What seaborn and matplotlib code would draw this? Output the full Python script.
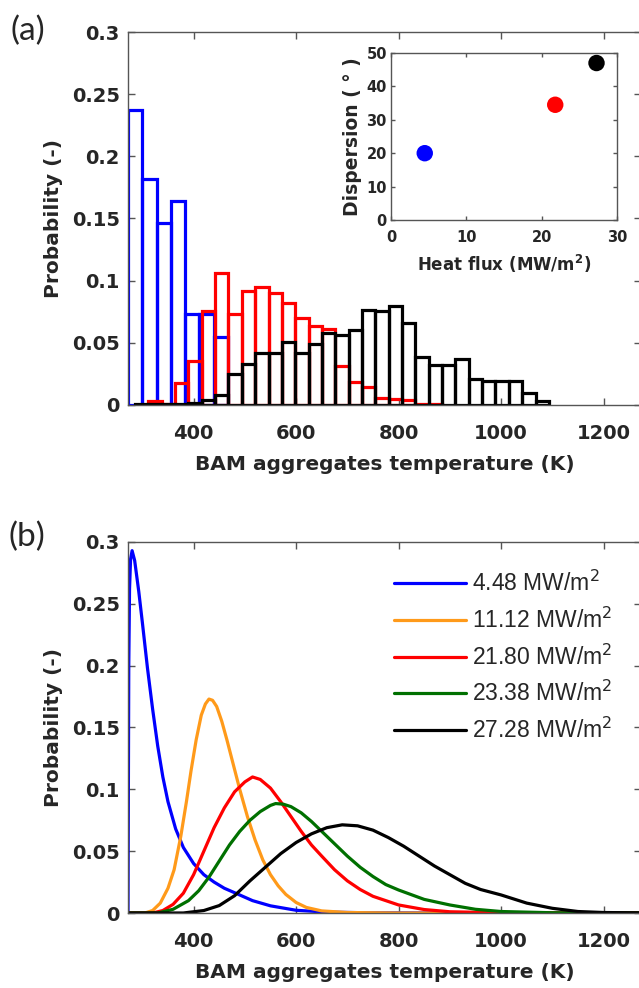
import numpy as np
import pandas as pd
import seaborn as sns
import matplotlib
matplotlib.use("Agg")
import matplotlib.pyplot as plt

sns.set_style("ticks")
plt.rcParams['font.family'] = ['DejaVu Sans']
plt.rcParams['mathtext.fontset'] = 'dejavusans'

# ---------------- data: panel (a) histograms ----------------
blue_edges = [272.0, 299.9, 327.8, 355.7, 383.6, 411.5, 439.4, 467.3]
blue_heights = [0.237, 0.182, 0.146, 0.164, 0.073, 0.073, 0.055]

common_edges = [285.7, 311.7, 337.8, 363.8, 389.9, 415.9, 442.0, 468.0, 494.1,
                520.1, 546.2, 572.2, 598.3, 624.3, 650.4, 676.4, 702.5, 728.5,
                754.6, 780.6, 806.7, 832.7, 858.8, 884.8, 910.9, 936.9, 963.0,
                989.0, 1015.1, 1041.1, 1067.2, 1093.2]
red_edges = common_edges[1:24]
red_heights = [0.003, 0.001, 0.018, 0.035, 0.0756, 0.1065, 0.073, 0.0917, 0.0946,
               0.0904, 0.0818, 0.0697, 0.0636, 0.0609, 0.031, 0.0188, 0.0147,
               0.0054, 0.0046, 0.0044, 0.001, 0.001]
black_edges = common_edges[0:32]
black_heights = [0.001, 0.001, 0.001, 0.001, 0.002, 0.004, 0.008, 0.025, 0.033,
                 0.042, 0.042, 0.051, 0.042, 0.049, 0.0577, 0.056, 0.060, 0.0764,
                 0.0758, 0.0797, 0.066, 0.0389, 0.032, 0.032, 0.037, 0.021, 0.0197,
                 0.0197, 0.0197, 0.0097, 0.003]

# inset
heat_flux = [4.48, 21.80, 27.28]
dispersion = [20.0, 34.5, 47.0]
inset_colors = ['#0000FF', '#FF0000', '#000000']

# ---------------- data: panel (b) curves ----------------
series_labels = ['4.48 MW/m$^2$', '11.12 MW/m$^2$', '21.80 MW/m$^2$',
                 '23.38 MW/m$^2$', '27.28 MW/m$^2$']
series_colors = ['#0000FF', '#FF9A1A', '#FF0000', '#007000', '#000000']

blue_T = [272, 273.5, 275, 277, 280, 285, 293, 300, 310, 320, 330, 340, 350, 365,
          380, 400, 420, 440, 460, 485, 515, 550, 600, 660, 740, 900, 1273]
blue_P = [0.0, 0.20, 0.262, 0.286, 0.293, 0.285, 0.260, 0.235, 0.198, 0.165, 0.135,
          0.110, 0.090, 0.068, 0.053, 0.040, 0.031, 0.025, 0.020, 0.0155, 0.010,
          0.0058, 0.0022, 0.0007, 0.0002, 0.0, 0.0]

orange_T = [272, 305, 320, 335, 350, 362, 375, 386, 395, 405, 415, 423, 430, 437,
            445, 455, 465, 475, 490, 505, 520, 535, 550, 565, 580, 600, 620, 650,
            700, 800, 1273]
orange_P = [0.0, 0.0, 0.002, 0.008, 0.020, 0.035, 0.062, 0.090, 0.115, 0.140,
            0.160, 0.169, 0.173, 0.172, 0.167, 0.155, 0.140, 0.124, 0.100, 0.078,
            0.059, 0.043, 0.031, 0.022, 0.015, 0.0085, 0.0045, 0.0017, 0.0004,
            0.0, 0.0]

red_T = [272, 320, 340, 360, 380, 400, 420, 440, 460, 480, 500, 515, 530, 550,
         570, 590, 610, 630, 650, 675, 700, 725, 750, 800, 850, 900, 1000, 1273]
red_P = [0.0, 0.0, 0.002, 0.007, 0.016, 0.031, 0.050, 0.069, 0.085, 0.098, 0.106,
         0.110, 0.108, 0.101, 0.090, 0.078, 0.066, 0.055, 0.046, 0.035, 0.026,
         0.019, 0.0135, 0.0065, 0.0028, 0.001, 0.0002, 0.0]

green_T = [272, 330, 360, 390, 410, 430, 450, 470, 490, 510, 530, 550, 560, 575,
           590, 610, 630, 650, 675, 700, 725, 750, 775, 800, 850, 900, 950, 1000,
           1100, 1273]
green_P = [0.0, 0.0, 0.003, 0.010, 0.018, 0.029, 0.042, 0.055, 0.066, 0.075,
           0.082, 0.087, 0.0885, 0.088, 0.086, 0.081, 0.074, 0.066, 0.056, 0.046,
           0.037, 0.0295, 0.023, 0.0186, 0.011, 0.0065, 0.003, 0.0012, 0.0002, 0.0]

black_T = [272, 380, 420, 450, 480, 510, 540, 570, 600, 630, 660, 690, 720, 750,
           780, 810, 840, 870, 900, 930, 960, 1000, 1050, 1100, 1150, 1200, 1273]
black_P = [0.0, 0.0, 0.002, 0.006, 0.014, 0.026, 0.037, 0.048, 0.057, 0.064,
           0.069, 0.0713, 0.0705, 0.067, 0.061, 0.054, 0.046, 0.038, 0.031, 0.024,
           0.019, 0.0146, 0.008, 0.0038, 0.0012, 0.0004, 0.0001]

xticks = [400, 600, 800, 1000, 1200]
yticks = [0, 0.05, 0.1, 0.15, 0.2, 0.25, 0.3]
ytick_labels = ['0', '0.05', '0.1', '0.15', '0.2', '0.25', '0.3']
inset_xticks = [0, 10, 20, 30]
inset_yticks = [0, 10, 20, 30, 40, 50]

XLIM = (272, 1273)
spine_c = '#555555'
text_c = '#262626'

W, H = 639, 988
fig = plt.figure(figsize=(W / 100, H / 100), dpi=100)


def px_axes(left, top, right, bottom):
    return fig.add_axes([left / W, 1 - bottom / H, (right - left) / W, (bottom - top) / H])


def style_main(ax):
    ax.set_xlim(*XLIM)
    ax.set_ylim(0, 0.3)
    ax.set_xticks(xticks)
    ax.set_xticklabels([str(t) for t in xticks])
    ax.set_yticks(yticks)
    ax.set_yticklabels(ytick_labels)
    ax.tick_params(direction='in', top=True, right=True, length=5, width=1,
                   color=spine_c, labelsize=14)
    ax.tick_params(axis='x', pad=13.5)
    ax.tick_params(axis='y', pad=6)
    for lab in ax.get_xticklabels() + ax.get_yticklabels():
        lab.set_fontweight('bold')
        lab.set_color(text_c)
    for sp in ax.spines.values():
        sp.set_visible(True)
        sp.set_color(spine_c)
        sp.set_linewidth(1.0)
    ax.set_xlabel('BAM aggregates temperature (K)', fontsize=14.5, fontweight='bold',
                  color=text_c, labelpad=9)
    ax.set_ylabel('Probability (-)', fontsize=14.5, fontweight='bold',
                  color=text_c, labelpad=6)


# ---------------- panel (a) ----------------
axa = px_axes(128, 32, 641, 405)
for edges, heights, col in [(blue_edges, blue_heights, '#0000FF'),
                            (red_edges, red_heights, '#FF0000'),
                            (black_edges, black_heights, '#000000')]:
    centers = [(edges[i] + edges[i + 1]) / 2 for i in range(len(heights))]
    df = pd.DataFrame({'T': centers, 'w': heights})
    sns.histplot(data=df, x='T', weights='w', bins=edges, fill=False,
                 element='bars', color=col, linewidth=2.3, ax=axa, stat='count')
style_main(axa)

# inset
axi = px_axes(391, 53, 617, 220)
dfi = pd.DataFrame({'q': heat_flux, 'd': dispersion, 'c': ['b', 'r', 'k']})
sns.scatterplot(data=dfi, x='q', y='d', hue='c', palette=inset_colors, s=140,
                edgecolor='none', legend=False, ax=axi)
axi.set_xlim(0, 30)
axi.set_ylim(0, 50)
axi.set_xticks(inset_xticks)
axi.set_yticks(inset_yticks)
axi.tick_params(direction='in', top=True, right=True, length=3, width=1,
                color=spine_c, labelsize=10.5, pad=3)
axi.tick_params(axis='x', pad=7)
for lab in axi.get_xticklabels() + axi.get_yticklabels():
    lab.set_fontweight('bold')
    lab.set_color(text_c)
for sp in axi.spines.values():
    sp.set_visible(True)
    sp.set_color(spine_c)
    sp.set_linewidth(1.0)
axi.set_xlabel('Heat flux (MW/m$\\mathbf{^2}$)', fontsize=12, fontweight='bold',
               color=text_c, labelpad=6)
axi.set_ylabel('Dispersion ( \u00b0 )', fontsize=13.5, fontweight='bold',
               color=text_c, labelpad=3)

# ---------------- panel (b) ----------------
axb = px_axes(128, 542, 641, 913)
for T, P, lab, col in [(blue_T, blue_P, series_labels[0], series_colors[0]),
                       (orange_T, orange_P, series_labels[1], series_colors[1]),
                       (red_T, red_P, series_labels[2], series_colors[2]),
                       (green_T, green_P, series_labels[3], series_colors[3]),
                       (black_T, black_P, series_labels[4], series_colors[4])]:
    dfl = pd.DataFrame({'T': T, 'P': P})
    sns.lineplot(data=dfl, x='T', y='P', color=col, linewidth=2.3, label=lab,
                 estimator=None, sort=False, ax=axb)
style_main(axb)
leg = axb.legend(loc='upper left', bbox_to_anchor=((385 - 128) / 513, 1 - (562 - 542) / 371),
                 frameon=False, handlelength=3.15, handletextpad=0.26,
                 labelspacing=0.5, borderaxespad=0,
                 prop={'family': 'Liberation Sans', 'size': 16.5})
for t in leg.get_texts():
    t.set_color(text_c)

fig.text(28 / W, 1 - 31 / H, '(a)', fontsize=24, family='Lato', ha='center', va='center',
         color=text_c)
fig.text(27 / W, 1 - 537 / H, '(b)', fontsize=24, family='Lato', ha='center', va='center',
         color=text_c)

fig.savefig('out.png', dpi=100)
